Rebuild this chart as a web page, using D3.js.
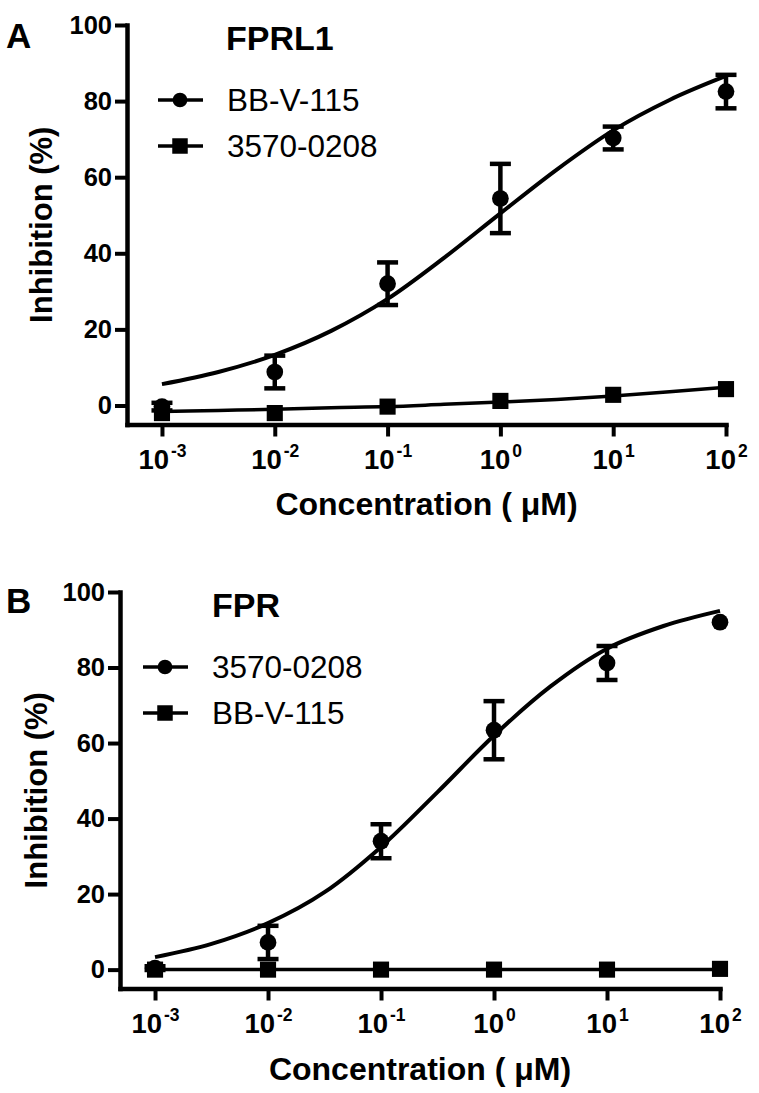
<!DOCTYPE html>
<html>
<head>
<meta charset="utf-8">
<script src="https://cdn.jsdelivr.net/npm/d3@7"></script>
<style>
  body { margin: 0; background: #fff; }
  svg { display: block; font-family: "Liberation Sans", Arial, sans-serif; }
</style>
</head>
<body>
<div id="chart"></div>
<script>
// measured points (concentration in uM)
var concentrations = [1e-3, 1e-2, 1e-1, 1, 10, 100];
var tickExponents = ["-3", "-2", "-1", "0", "1", "2"];
var yTicks = [0, 20, 40, 60, 80, 100];

// panel A - FPRL1
var fprl1Series = ["BB-V-115", "3570-0208"];
var fprl1BBV = [-0.3, 8.8, 32, 54.4, 70.3, 82.5];
var fprl1BBVErr = [1, 4.3, 5.6, 9.1, 3, 4.4];
var fprl13570 = [-2, -2, -0.3, 1.2, 2.8, 4.3];
var fprl13570Err = [0, 0, 0, 0, 0, 0];

// panel B - FPR
var fprSeries = ["3570-0208", "BB-V-115"];
var fpr3570 = [0.4, 7.2, 34, 63.4, 81.2, 92];
var fpr3570Err = [0.5, 4.4, 4.5, 7.7, 4.5, 0];
var fprBBV = [0, 0, 0, 0, 0, 0.2];
var fprBBVErr = [0, 0, 0, 0, 0, 0];

// fitted curves (log10 concentration)
var fitLogs = [-3, -2.5, -2, -1.5, -1, -0.5, 0, 0.5, 1, 1.5, 2];
var fprl1FitBBV = [5.6, 8.8, 13.3, 19.6, 28, 38.8, 50.5, 62, 72.3, 80.3, 86.6];
var fprl1Fit3570 = [-1.6, -1.3, -1.0, -0.6, -0.3, 0.3, 0.9, 1.6, 2.5, 3.6, 4.8];
var fprFit3570 = [3.3, 6.8, 12.3, 20.5, 32.5, 47, 62, 75, 85, 91, 95];
var fprFitBBV = [0, 0, 0, 0, 0, 0, 0, 0, 0, 0, 0];

var w = 759, h = 1093;
var font = '"Liberation Sans", Arial, sans-serif';
var svg = d3.select('#chart').append('svg')
    .attr('width', w)
    .attr('height', h);

function drawPanel(p) {
    var x = d3.scaleLog()
        .domain([Math.pow(10, -3.31), 100])
        .range([p.x0, p.x1]);
    var y = d3.scaleLinear()
        .domain([-5, 100])
        .range([p.yBottom, p.yTop]);

    var g = svg.append('g');

    // y axis
    var yAxis = g.append('g')
        .attr('transform', 'translate(' + p.x0 + ',0)')
        .call(d3.axisLeft(y).tickValues(yTicks).tickSize(12).tickPadding(3).tickSizeOuter(0));
    yAxis.select('.domain').attr('stroke-width', 4.5).attr('stroke-linecap', 'square');
    yAxis.selectAll('.tick line').attr('stroke-width', 4);
    yAxis.selectAll('text')
        .attr('font-size', 25.5)
        .attr('font-weight', 'bold')
        .attr('font-family', font)
        .attr('fill', '#000');

    // x axis
    var xAxis = g.append('g')
        .attr('transform', 'translate(0,' + p.yBottom + ')')
        .call(d3.axisBottom(x).tickValues(concentrations).tickSize(12).tickSizeOuter(0));
    xAxis.select('.domain').attr('stroke-width', 4.5).attr('stroke-linecap', 'square');
    xAxis.selectAll('.tick line').attr('stroke-width', 4);
    xAxis.selectAll('text').each(function (d, i) {
        var t = d3.select(this)
            .text(null)
            .attr('y', 44)
            .attr('dy', 0)
            .attr('font-size', 27.5)
            .attr('font-weight', 'bold')
            .attr('font-family', font)
            .attr('fill', '#000');
        t.append('tspan').text('10');
        t.append('tspan')
            .attr('font-size', 17.5)
            .attr('dy', -12)
            .attr('dx', 2)
            .text(tickExponents[i]);
    });

    // axis titles
    g.append('text')
        .attr('x', (p.x0 + p.x1) / 2)
        .attr('y', p.xTitleY)
        .attr('text-anchor', 'middle')
        .attr('font-size', 32)
        .attr('font-weight', 'bold')
        .text('Concentration ( \u03bcM)');
    g.append('text')
        .attr('transform', 'translate(' + p.yTitleX + ',' + ((p.yTop + p.yBottom) / 2) + ') rotate(-90)')
        .attr('text-anchor', 'middle')
        .attr('font-size', 31)
        .attr('font-weight', 'bold')
        .text('Inhibition (%)');

    // panel letter + title
    g.append('text')
        .attr('x', 6).attr('y', p.letterY)
        .attr('font-size', 35).attr('font-weight', 'bold')
        .text(p.letter);
    g.append('text')
        .attr('x', p.titleX).attr('y', p.titleY)
        .attr('font-size', 34).attr('font-weight', 'bold')
        .text(p.title);

    // fitted curves
    var line = d3.line()
        .x(function (d) { return x(Math.pow(10, d[0])); })
        .y(function (d) { return y(d[1]); })
        .curve(d3.curveMonotoneX);
    p.series.forEach(function (s) {
        g.append('path')
            .datum(d3.zip(fitLogs, s.fit))
            .attr('fill', 'none')
            .attr('stroke', '#000')
            .attr('stroke-width', s.fitWidth)
            .attr('d', line);
    });

    // error bars + markers
    p.series.forEach(function (s) {
        var pts = concentrations.map(function (c, i) {
            return {c: c, v: s.values[i], e: s.err[i]};
        });
        var eb = g.append('g').selectAll('g.err')
            .data(pts.filter(function (d) { return d.e > 0; }))
            .enter().append('g')
            .attr('stroke', '#000')
            .attr('stroke-width', 4.5);
        eb.append('line')
            .attr('x1', function (d) { return x(d.c); })
            .attr('x2', function (d) { return x(d.c); })
            .attr('y1', function (d) { return y(d.v + d.e); })
            .attr('y2', function (d) { return y(d.v - d.e); });
        eb.append('line')
            .attr('x1', function (d) { return x(d.c) - 10.5; })
            .attr('x2', function (d) { return x(d.c) + 10.5; })
            .attr('y1', function (d) { return y(d.v + d.e); })
            .attr('y2', function (d) { return y(d.v + d.e); });
        eb.append('line')
            .attr('x1', function (d) { return x(d.c) - 10.5; })
            .attr('x2', function (d) { return x(d.c) + 10.5; })
            .attr('y1', function (d) { return y(d.v - d.e); })
            .attr('y2', function (d) { return y(d.v - d.e); });

        var sym = d3.symbol()
            .type(s.shape === 'circle' ? d3.symbolCircle : d3.symbolSquare)
            .size(s.shape === 'circle' ? 220 : 260);
        g.append('g').selectAll('path')
            .data(pts)
            .enter().append('path')
            .attr('transform', function (d) { return 'translate(' + x(d.c) + ',' + y(d.v) + ')'; })
            .attr('d', sym)
            .attr('fill', '#000');
    });

    // legend
    p.series.forEach(function (s, i) {
        var ly = p.legendY[i];
        g.append('line')
            .attr('x1', p.legendX).attr('x2', p.legendX + 45)
            .attr('y1', ly).attr('y2', ly)
            .attr('stroke', '#000').attr('stroke-width', 3.5);
        g.append('path')
            .attr('transform', 'translate(' + (p.legendX + 22) + ',' + ly + ')')
            .attr('d', d3.symbol()
                .type(s.shape === 'circle' ? d3.symbolCircle : d3.symbolSquare)
                .size(s.shape === 'circle' ? 170 : 240)())
            .attr('fill', '#000');
        g.append('text')
            .attr('x', p.legendTextX).attr('y', ly + 11)
            .attr('font-size', 31.5)
            .text(s.name);
    });
}

drawPanel({
    x0: 127, x1: 726, yTop: 25, yBottom: 424.5,
    xTitleY: 515, yTitleX: 52,
    letter: 'A', letterY: 48, title: 'FPRL1', titleX: 226, titleY: 50,
    legendX: 158, legendTextX: 227, legendY: [100, 146],
    series: [
        {name: fprl1Series[0], shape: 'circle', values: fprl1BBV, err: fprl1BBVErr, fit: fprl1FitBBV, fitWidth: 4},
        {name: fprl1Series[1], shape: 'square', values: fprl13570, err: fprl13570Err, fit: fprl1Fit3570, fitWidth: 3.5}
    ]
});

drawPanel({
    x0: 120, x1: 720, yTop: 592, yBottom: 988.5,
    xTitleY: 1080, yTitleX: 47,
    letter: 'B', letterY: 613, title: 'FPR', titleX: 212, titleY: 617,
    legendX: 143, legendTextX: 212, legendY: [667, 713],
    series: [
        {name: fprSeries[0], shape: 'circle', values: fpr3570, err: fpr3570Err, fit: fprFit3570, fitWidth: 4},
        {name: fprSeries[1], shape: 'square', values: fprBBV, err: fprBBVErr, fit: fprFitBBV, fitWidth: 3.5}
    ]
});
</script>
</body>
</html>
